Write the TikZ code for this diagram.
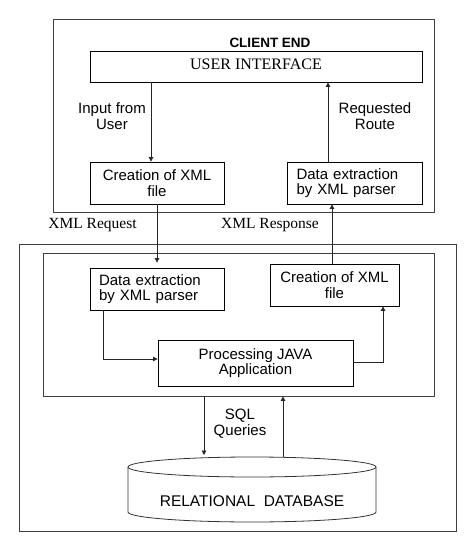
\documentclass[tikz,border=0pt]{standalone}
\usepackage{fontspec}
\setmainfont{Liberation Sans}
\newfontfamily\timesfont{Liberation Serif}
\usetikzlibrary{arrows.meta,positioning}

\begin{document}
\begin{tikzpicture}[x=1pt,y=-1pt,every node/.style={font=\fontsize{15}{15.5}\selectfont,align=center,inner sep=0pt},box/.style={draw,line width=0.8pt},frame/.style={draw=black!75,line width=0.8pt},arrow/.style={-{Triangle[length=4.5pt,width=4.5pt]},line width=0.7pt,black!85},serif/.style={font=\fontsize{16}{18}\timesfont}]
\useasboundingbox (0,0) rectangle (473,552);
% client side
\node[frame,minimum width=381pt,minimum height=193pt] (client) at (243.5,115.5) {};
\node[font=\fontsize{13.5}{15}\selectfont\bfseries] (title) at (270,43) {CLIENT END};
\node[box,serif,minimum width=332pt,minimum height=31pt] (ui) at (256,66.5) {\raisebox{4pt}{USER INTERFACE}};
\node[box,minimum width=134pt,minimum height=42pt] (cxml) at (157,183) {Creation of XML\\file};
\node[box,minimum width=135pt,minimum height=42pt,text width=116pt,align=left] (cext) at (354.5,183) {Data extraction\\by XML parser};
\node (input) at (112,116) {Input from\\User};
\node (route) at (375,116) {Requested\\Route};
% messages
\node[serif,font=\fontsize{15.5}{17}\timesfont] (req) at (92.5,225) {XML Request};
\node[serif,font=\fontsize{15.5}{17}\timesfont] (resp) at (270,225) {XML Response};
% server side
\node[frame,minimum width=437pt,minimum height=287pt] (server) at (237.5,387.5) {};
\node[frame,minimum width=391pt,minimum height=143pt] (inner) at (238.5,324.5) {};
\node[box,minimum width=134pt,minimum height=42pt,text width=116pt,align=left] (sext) at (157,289) {Data extraction\\by XML parser};
\node[box,minimum width=129pt,minimum height=42pt] (sxml) at (334.5,285) {Creation of XML\\file};
\node[box,minimum width=195pt,minimum height=46pt] (java) at (255.5,363) {Processing JAVA\\Application};
\node (sql) at (240,423.5) {SQL\\Queries};
% database
\draw[black!80,line width=0.8pt] (252,467) ellipse [x radius=124pt,y radius=10pt];
\draw[black!80,line width=0.8pt] (128,467) -- (128,512) arc[start angle=180,end angle=360,x radius=124pt,y radius=10pt] -- (376,467);
\coordinate (dbtop) at (252,457);
\node[font=\fontsize{15.5}{16}\selectfont] (db) at (252,501) {RELATIONAL\ \ DATABASE};
% connectors
\draw[arrow] ([xshift=-6pt]cxml.north |- ui.south) -- ([xshift=-6pt]cxml.north);
\draw[arrow] ([xshift=-26.5pt]cext.north) -- ([xshift=-26.5pt]cext.north |- ui.south);
\draw[arrow] (cxml.south) -- ([yshift=5pt]sext.north);
\draw[arrow] ([xshift=-2.5pt]sxml.north) -- ([xshift=-2.5pt]sxml.north |- cext.south);
\draw[arrow] ([xshift=-54pt]sext.south) |- ([yshift=4pt]java.west);
\draw[arrow] ([yshift=1pt]java.east) -| ([xshift=48.5pt]sxml.south);
\draw[arrow] ([xshift=-48pt]dbtop |- inner.south) -- ([xshift=-48pt,yshift=2pt]dbtop);
\draw[arrow] ([xshift=31pt]dbtop) -- ([xshift=31pt]dbtop |- inner.south);
\end{tikzpicture}
\end{document}
